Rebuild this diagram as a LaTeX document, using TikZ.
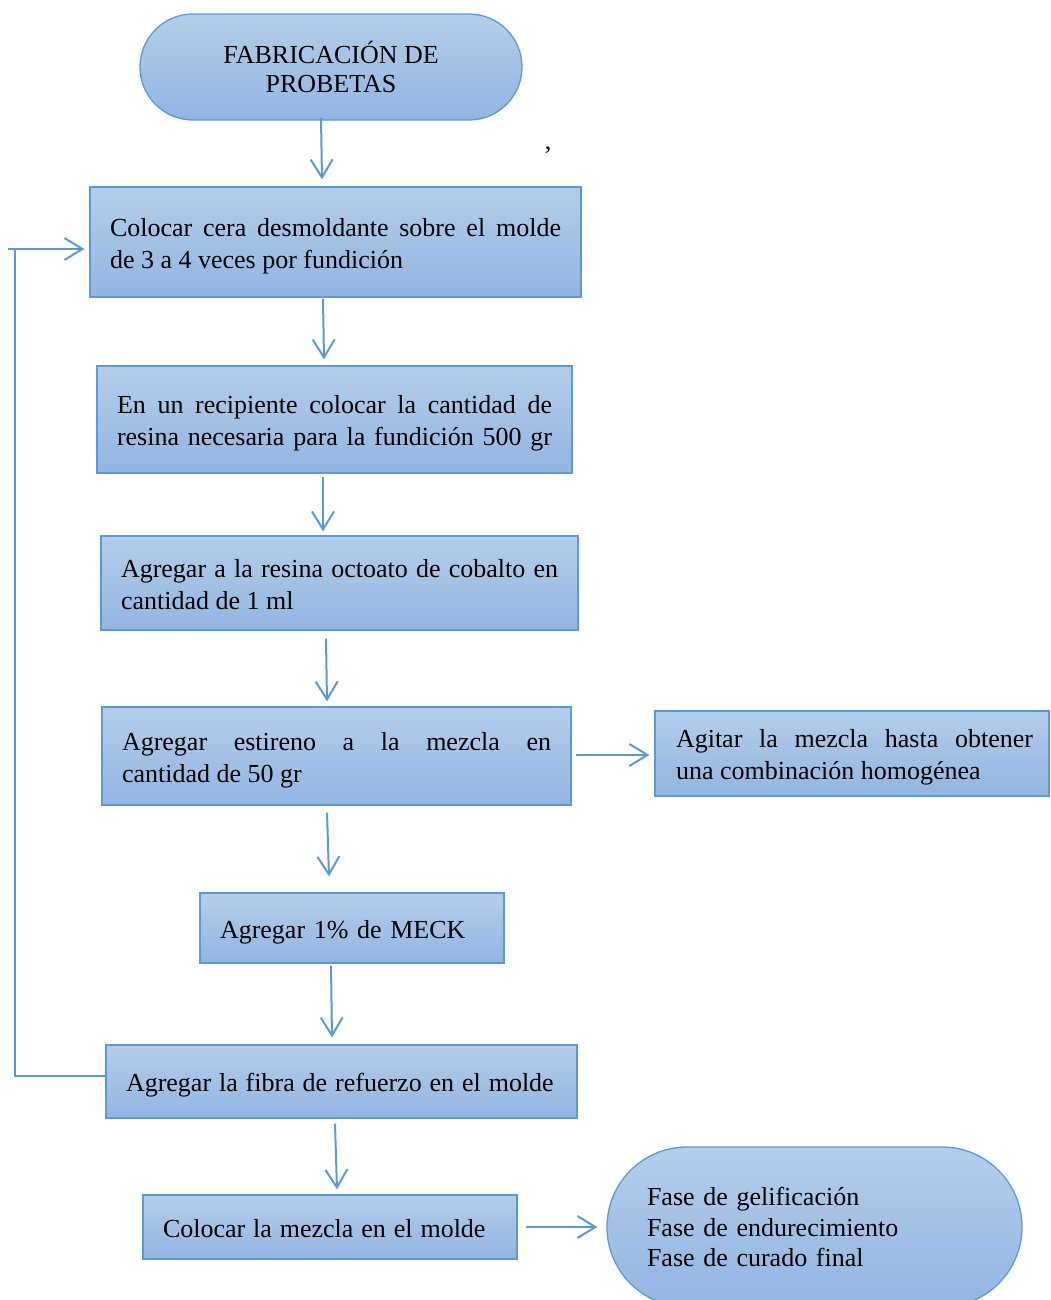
\documentclass[tikz,border=0pt]{standalone}
\usepackage{fontspec}
\setmainfont{Liberation Serif}
\usetikzlibrary{arrows.meta}
\definecolor{edge}{HTML}{5B9BD5}
\definecolor{boxtop}{HTML}{B4CDEB}
\definecolor{boxbot}{HTML}{92B5E1}
\hbadness=10000
\hfuzz=40pt
% tall opening strut and matching closing strut for the step texts
\newcommand\stepopen{\rule{0pt}{30.4pt}}
\newcommand\stepclose{\rule[-9.6pt]{0pt}{9.6pt}}
\newcommand\tightwords{\spaceskip=7.9pt plus 4pt minus 1pt\relax}
\tikzset{
  stepbox/.style={draw=edge, line width=1.3pt, top color=boxtop, bottom color=boxbot,
    inner xsep=20pt, inner ysep=0pt, align=justify,
    font=\fontsize{26}{32}\selectfont,
    execute at begin node=\stepopen,
    execute at end node=\stepclose},
  termbox/.style={draw=edge, line width=1.3pt, top color=boxtop, bottom color=boxbot,
    inner ysep=0pt},
  arr/.style={draw=edge, line width=2pt, -{Straight Barb[length=18pt,width=22pt]}},
  plain/.style={draw=edge, line width=2pt},
}
\begin{document}
\begin{tikzpicture}[x=1pt,y=-1pt]
\useasboundingbox (0,0) rectangle (1050,1300);

% start terminal
\node[termbox, rounded corners=53pt, minimum width=382pt, minimum height=106pt,
      align=center, font=\fontsize{26}{29}\selectfont] (t1) at (331,67)
  {FABRICACIÓN DE\\PROBETAS};
\node[font=\fontsize{26}{32}\selectfont] (cm) at (548,150) {,};

% process steps
\node[stepbox, text width=451pt, minimum height=110pt] (b1) at (335.5,242)
  {Colocar cera desmoldante sobre el molde\linebreak de 3 a 4 veces por fundición};
\node[stepbox, text width=435pt, minimum height=107pt] (b2) at (334.5,419.5)
  {En un recipiente colocar la cantidad de\linebreak
   \makebox[\linewidth][s]{resina necesaria para la fundición 500 gr}};
\node[stepbox, text width=437pt, minimum height=94pt] (b3) at (339.5,583)
  {Agregar a la resina octoato de cobalto en\linebreak cantidad de 1 ml};
\node[stepbox, text width=429pt, minimum height=98pt] (b4) at (336.5,756)
  {Agregar estireno a la mezcla en\linebreak cantidad de 50 gr};
\node[stepbox, text width=362pt, inner xsep=16pt, minimum height=85pt] (b5) at (852,753.5)
  {\hspace*{5pt}Agitar la mezcla hasta obtener\linebreak \hspace*{5pt}una combinación homogénea};
\node[stepbox, text width=264pt, minimum height=70pt, align=left] (b6) at (352,928)
  {\mbox{Agregar 1\% de MECK}};
\node[stepbox, text width=431pt, minimum height=73pt, align=left] (b7) at (341.5,1081.5)
  {\tightwords\mbox{Agregar la fibra de refuerzo en el molde}};
\node[stepbox, text width=334pt, minimum height=64pt, align=left] (b8) at (330,1227)
  {\tightwords\mbox{Colocar la mezcla en el molde}};

% end terminal
\node[termbox, rounded corners=80pt, text width=335pt, inner xsep=40pt,
      minimum height=160pt, align=left, font=\fontsize{26}{30.5}\selectfont] (t2) at (814.5,1227)
  {Fase de gelificación\\Fase de endurecimiento\\Fase de curado final};

% main flow
\draw[arr] ([xshift=-10pt,yshift=3pt]t1.south) -- ([xshift=-13.5pt,yshift=7pt]b1.north);
\draw[arr] ([xshift=-12.5pt,yshift=-1pt]b1.south) -- ([xshift=-10.5pt,yshift=6pt]b2.north);
\draw[arr] ([xshift=-11.5pt,yshift=-3pt]b2.south) -- ([xshift=-16.5pt,yshift=4pt]b3.north);
\draw[arr] ([xshift=-13.5pt,yshift=-8pt]b3.south) -- ([xshift=-9.5pt,yshift=5pt]b4.north);
\draw[arr] ([xshift=-9.5pt,yshift=-7pt]b4.south) -- ([xshift=-23pt,yshift=16pt]b6.north);
\draw[arr] ([xshift=-21pt,yshift=-2pt]b6.south) -- ([xshift=-9.5pt,yshift=7pt]b7.north);
\draw[arr] ([xshift=-6.5pt,yshift=-5pt]b7.south) -- ([xshift=7pt,yshift=5pt]b8.north);

% side branches
\draw[arr] ([xshift=4pt,yshift=1pt]b4.east) -- ([xshift=-5pt,yshift=-1.5pt]b5.west);
\draw[arr] ([xshift=8pt]b8.east) -- ([xshift=-9pt]t2.west);

% loop back to the first step
\coordinate (fbk) at (15,249);
\draw[arr] ([yshift=5.5pt]b7.west) -| (fbk) -- ([xshift=-5pt,yshift=-7pt]b1.west);
\draw[plain] (fbk) -- ++(-7,0);
\end{tikzpicture}
\end{document}
